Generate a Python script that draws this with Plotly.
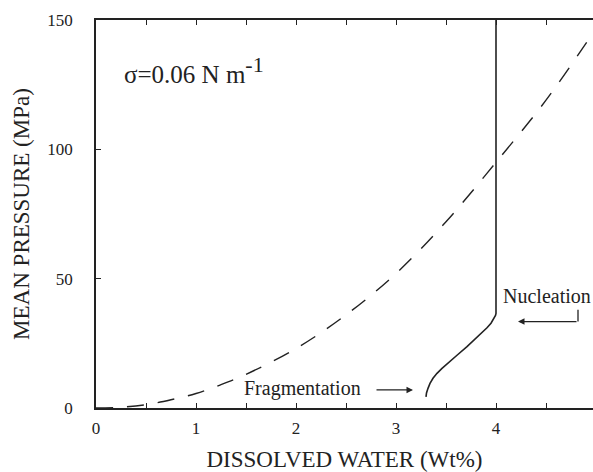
import plotly.graph_objects as go

# Data
dashed_x = [0, 0.25, 0.5, 0.75, 1, 1.25, 1.5, 2, 2.5, 3, 3.5, 4, 4.5, 4.97]
dashed_y = [0, 0.3, 1.3, 3.2, 5.6, 9.0, 13.0, 23, 36, 52, 72, 95, 119, 145]

solid_x = [3.30, 3.305, 3.32, 3.34, 3.37, 3.41, 3.46, 3.51, 3.61, 3.71, 3.81, 3.91, 3.95, 3.98, 3.995, 4.0, 4.0]
solid_y = [4.3, 5.8, 7.6, 9.5, 11.5, 13.4, 15.3, 17.1, 20.4, 23.7, 27.3, 31.0, 32.8, 34.6, 35.8, 36.6, 150]

x_tickvals = [0, 0.5, 1, 1.5, 2, 2.5, 3, 3.5, 4, 4.5, 5]
x_ticktext = ["0", "", "1", "", "2", "", "3", "", "4", "", "5"]
y_tickvals = [0, 50, 100, 150]
y_ticktext = ["0", "50", "100", "150"]

FONT = "Liberation Serif"
TXT = "#222222"

fig = go.Figure()
fig.add_trace(go.Scatter(x=dashed_x, y=dashed_y, mode="lines",
                         line=dict(color="#222", width=1.4, dash="17px,14px", shape="spline"),
                         showlegend=False, hoverinfo="skip"))
fig.add_trace(go.Scatter(x=solid_x, y=solid_y, mode="lines",
                         line=dict(color="#222", width=1.6),
                         showlegend=False, hoverinfo="skip"))

# Nucleation elbow arrow: vertical stub
fig.add_shape(type="line", x0=4.82, x1=4.82, y0=38.0, y1=33.4, line=dict(color="#222", width=1.3))
fig.add_annotation(x=4.22, y=33.4, ax=4.82, ay=33.4, xref="x", yref="y", axref="x", ayref="y",
                   text="", showarrow=True, arrowhead=2, arrowsize=1, arrowwidth=1.3, arrowcolor="#222")
fig.add_annotation(x=4.97, y=43.2, text="Nucleation", showarrow=False, xanchor="right",
                   font=dict(family=FONT, size=20, color=TXT))

# Fragmentation arrow
fig.add_annotation(x=3.17, y=7.0, ax=2.79, ay=7.0, xref="x", yref="y", axref="x", ayref="y",
                   text="", showarrow=True, arrowhead=2, arrowsize=1, arrowwidth=1.3, arrowcolor="#222")
fig.add_annotation(x=2.06, y=7.5, text="Fragmentation", showarrow=False,
                   font=dict(family=FONT, size=20, color=TXT))

fig.add_annotation(x=0.26, y=130.5, text="σ=0.06 N m<sup><span style='font-size:22px'>-1</span></sup>",
                   showarrow=False, xanchor="left",
                   font=dict(family=FONT, size=25, color=TXT))

fig.update_layout(
    width=593, height=472,
    margin=dict(l=96, r=0, t=20, b=64, autoexpand=False),
    paper_bgcolor="white", plot_bgcolor="white",
    font=dict(family=FONT, size=17, color=TXT),
    xaxis=dict(range=[0, 4.97], tickvals=x_tickvals, ticktext=x_ticktext,
               ticks="inside", ticklen=5, tickwidth=1.3, tickcolor="#222",
               showline=True, linecolor="#222", linewidth=1.5, mirror="ticks",
               showgrid=False, zeroline=False, automargin=False, ticklabelstandoff=4,
               title=dict(text="DISSOLVED WATER (Wt%)", font=dict(family=FONT, size=23, color=TXT), standoff=23),
               tickfont=dict(family=FONT, size=17, color=TXT)),
    yaxis=dict(range=[0, 150], tickvals=y_tickvals, ticktext=y_ticktext,
               ticks="inside", ticklen=5, tickwidth=1.3, tickcolor="#222",
               showline=True, linecolor="#222", linewidth=1.5,
               showgrid=False, zeroline=False, ticklabelstandoff=18, automargin=False,
               title=dict(text="MEAN PRESSURE (MPa)", font=dict(family=FONT, size=23, color=TXT), standoff=11),
               tickfont=dict(family=FONT, size=17, color=TXT)),
)

fig.write_html("out.html", config={"displayModeBar": False},
               post_script="document.body.style.margin='0';document.body.style.overflow='hidden';")
